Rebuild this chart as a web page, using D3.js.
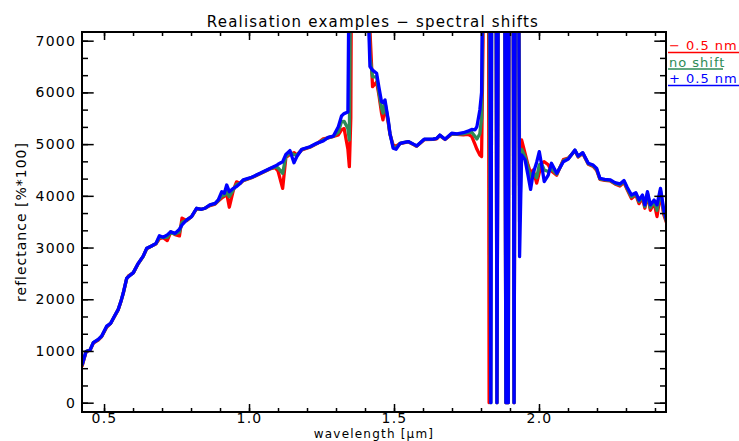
<!DOCTYPE html>
<html>
<head>
<meta charset="utf-8">
<script src="https://cdn.jsdelivr.net/npm/d3@7"></script>
<style>
  body { margin: 0; background: #fff; }
  svg { display: block; }
  text { font-family: "DejaVu Sans", sans-serif; fill: #000; }
</style>
</head>
<body>
<svg width="739" height="441"></svg>
<script>
// wavelength in micrometre
const wavelength = [
  0.424, 0.438, 0.452, 0.463, 0.480, 0.492, 0.509, 0.523, 0.538, 0.549,
  0.558, 0.566, 0.578, 0.584, 0.601, 0.618, 0.635, 0.647, 0.664, 0.679,
  0.691, 0.704, 0.718, 0.730, 0.745, 0.760, 0.769, 0.785, 0.802, 0.819,
  0.836, 0.848, 0.865, 0.883, 0.894, 0.906, 0.915, 0.923, 0.932, 0.946,
  0.957, 0.969, 0.980, 1.009, 1.038, 1.072, 1.090, 1.100, 1.116, 1.127,
  1.141, 1.155, 1.165, 1.182, 1.210, 1.233, 1.256, 1.273, 1.291, 1.308,
  1.319, 1.328, 1.341, 1.346, 1.351, 1.356, 1.372, 1.389, 1.403, 1.410,
  1.417, 1.426, 1.440, 1.448, 1.457, 1.462, 1.469, 1.480, 1.486, 1.497,
  1.507, 1.521, 1.532, 1.549, 1.572, 1.578, 1.604, 1.635, 1.647, 1.658,
  1.676, 1.699, 1.717, 1.739, 1.755, 1.768, 1.779, 1.786, 1.796, 1.802,
  1.807, 1.821, 1.828, 1.834, 1.845, 1.855, 1.871, 1.886, 1.890, 1.894,
  1.903, 1.914, 1.924, 1.933, 1.940, 1.952, 1.962, 1.971, 1.980, 1.992,
  2.001, 2.009, 2.018, 2.032, 2.043, 2.061, 2.084, 2.101, 2.124, 2.135,
  2.151, 2.170, 2.187, 2.199, 2.210, 2.227, 2.245, 2.262, 2.279, 2.293,
  2.304, 2.319, 2.334, 2.345, 2.357, 2.365, 2.374, 2.384, 2.397, 2.407,
  2.419, 2.430, 2.441
];

// - 0.5 nm (red)
const minusShift = [
  700, 985, 1020, 1150, 1210, 1280, 1460, 1535, 1685, 1800,
  1950, 2110, 2395, 2450, 2510, 2690, 2830, 2975, 3030, 3070,
  3170, 3190, 3135, 3300, 3250, 3225, 3570, 3520, 3600, 3750,
  3740, 3760, 3810, 3840, 3900, 3960, 3990, 4050, 3780, 4110,
  4270, 4240, 4295, 4350, 4425, 4520, 4545, 4480, 4145, 4740,
  4800, 4835, 4790, 4890, 4940, 5005, 5100, 5120, 5150, 5180,
  5275, 5300, 4900, 4565, 5500, 12000, 20000, 18000, 16000, 10000,
  7200, 6110, 6200, 5950, 5600, 5470, 5750, 5420, 5190, 4985,
  4960, 5010, 5025, 5045, 4975, 4960, 5085, 5090, 5100, 5165,
  5090, 5190, 5190, 5180, 5190, 5150, 5000, 4900, 4790, 4760,
  7000, 30000, 0, 4000, 30000, 0, 30000, 0, 8000, 0,
  30000, 0, 20000, 4200, 5080, 4820, 4600, 4435, 4500, 4245,
  4450, 4630, 4660, 4600, 4480, 4400, 4700, 4730, 4870, 4750,
  4820, 4610, 4570, 4490, 4320, 4300, 4290, 4230, 4190, 4260,
  4120, 3950, 4020, 3850, 3960, 3760, 4030, 3720, 3870, 3600,
  4050, 3640, 3460
];

// no shift (green)
const noShift = [
  720, 990, 1020, 1160, 1220, 1285, 1470, 1535, 1690, 1800,
  1955, 2110, 2400, 2440, 2515, 2690, 2830, 2980, 3030, 3075,
  3200, 3190, 3200, 3300, 3260, 3300, 3490, 3530, 3600, 3755,
  3740, 3760, 3820, 3850, 3910, 4000, 4010, 4080, 3985, 4120,
  4220, 4240, 4300, 4355, 4430, 4525, 4560, 4540, 4435, 4760,
  4830, 4800, 4780, 4895, 4945, 5010, 5080, 5125, 5150, 5230,
  5435, 5440, 5300, 5080, 9000, 16000, 20000, 18000, 15000, 8500,
  6700, 6300, 6300, 6000, 5700, 5600, 5800, 5450, 5200, 4950,
  4930, 5015, 5030, 5050, 4980, 4965, 5090, 5095, 5110, 5170,
  5095, 5200, 5195, 5200, 5220, 5230, 5150, 5100, 5200, 5500,
  8000, 30000, 8000, 0, 30000, 0, 30000, 0, 8000, 0,
  30000, 0, 20000, 3500, 4900, 4750, 4550, 4350, 4450, 4350,
  4600, 4620, 4500, 4470, 4520, 4420, 4680, 4720, 4880, 4760,
  4830, 4620, 4580, 4510, 4330, 4310, 4300, 4240, 4210, 4280,
  4140, 3980, 4040, 3890, 3990, 3790, 4050, 3770, 3900, 3720,
  4100, 3690, 3480
];

// + 0.5 nm (blue)
const plusShift = [
  730, 990, 1020, 1160, 1225, 1290, 1480, 1535, 1695, 1805,
  1955, 2115, 2405, 2435, 2515, 2695, 2835, 2985, 3030, 3080,
  3230, 3200, 3245, 3305, 3275, 3355, 3440, 3535, 3600, 3760,
  3740, 3760, 3825, 3855, 3920, 4080, 4050, 4210, 4080, 4145,
  4180, 4240, 4310, 4360, 4435, 4530, 4575, 4610, 4660, 4800,
  4875, 4640, 4760, 4900, 4950, 5015, 5060, 5130, 5155, 5335,
  5545, 5590, 5620, 9000, 16000, 20000, 20000, 18000, 15000, 7800,
  6500, 6430, 6370, 6100, 5820, 5800, 5855, 5470, 5210, 4920,
  4900, 5015, 5030, 5050, 4985, 4965, 5095, 5095, 5110, 5175,
  5095, 5210, 5200, 5220, 5250, 5285, 5275, 5340, 5660, 6000,
  9000, 30000, 16000, 0, 30000, 0, 30000, 0, 8000, 0,
  30000, 0, 20000, 2825, 4790, 4695, 4400, 4125, 4435, 4650,
  4855, 4600, 4275, 4400, 4630, 4435, 4660, 4710, 4885, 4770,
  4835, 4630, 4595, 4530, 4340, 4320, 4310, 4255, 4230, 4295,
  4165, 4015, 4060, 3920, 4015, 3825, 4080, 3825, 3920, 3825,
  4145, 3740, 3500
];

const xTicks = [0.5, 1.0, 1.5, 2.0];
const yTicks = [0, 1000, 2000, 3000, 4000, 5000, 6000, 7000];
const seriesNames = ['\u2212 0.5 nm', 'no shift', '+ 0.5 nm'];
const seriesColors = ['#ff0000', '#2e8b57', '#0000ff'];

const M = { left: 82, right: 666, top: 32, bottom: 412 };

const svg = d3.select('svg');

const x = d3.scaleLinear().domain([0.424, 2.438]).range([M.left, M.right]);
const y = d3.scaleLinear().domain([-180, 7168]).range([M.bottom, M.top]);

const xMinor = d3.range(0.5, 2.45, 0.1).map(v => +v.toFixed(1));
const yMinor = d3.range(0, 7001, 1000 / 3).map(v => Math.round(v));

svg.append('clipPath').attr('id', 'clip')
  .append('rect')
  .attr('x', M.left).attr('y', M.top)
  .attr('width', M.right - M.left).attr('height', M.bottom - M.top);

// lines
const series = [minusShift, noShift, plusShift];
const line = d3.line()
  .x((d, i) => x(wavelength[i]))
  .y(d => y(d));

svg.append('g').attr('clip-path', 'url(#clip)')
  .selectAll('path')
  .data(series)
  .enter()
  .append('path')
  .attr('d', line)
  .attr('fill', 'none')
  .attr('stroke', (d, i) => seriesColors[i])
  .attr('stroke-width', 3.3)
  .attr('stroke-linejoin', 'round');

// axes, ticks pointing inward
function styleAxis(g) {
  g.select('.domain').remove();
  g.selectAll('line').attr('stroke', '#000').attr('stroke-width', 1.5);
  g.selectAll('text')
    .style('font-family', '"DejaVu Sans", sans-serif')
    .style('font-size', '14px')
    .style('letter-spacing', '1.2px')
    .attr('fill', '#000');
}

svg.append('g')
  .attr('transform', `translate(0,${M.bottom})`)
  .call(d3.axisBottom(x).tickValues(xTicks).tickFormat(d3.format('.1f')).tickSize(-8).tickPadding(1.5))
  .call(styleAxis);
svg.append('g')
  .attr('transform', `translate(0,${M.bottom})`)
  .call(d3.axisBottom(x).tickValues(xMinor).tickFormat('').tickSize(-4))
  .call(styleAxis);
svg.append('g')
  .attr('transform', `translate(0,${M.top})`)
  .call(d3.axisTop(x).tickValues(xTicks).tickFormat('').tickSize(-8))
  .call(styleAxis);
svg.append('g')
  .attr('transform', `translate(0,${M.top})`)
  .call(d3.axisTop(x).tickValues(xMinor).tickFormat('').tickSize(-4))
  .call(styleAxis);

svg.append('g')
  .attr('transform', `translate(${M.left},0)`)
  .call(d3.axisLeft(y).tickValues(yTicks).tickFormat(d3.format('d')).tickSize(-11.7).tickPadding(6))
  .call(styleAxis);
svg.append('g')
  .attr('transform', `translate(${M.left},0)`)
  .call(d3.axisLeft(y).tickValues(yMinor).tickFormat('').tickSize(-6))
  .call(styleAxis);
svg.append('g')
  .attr('transform', `translate(${M.right},0)`)
  .call(d3.axisRight(y).tickValues(yTicks).tickFormat('').tickSize(-11.7))
  .call(styleAxis);
svg.append('g')
  .attr('transform', `translate(${M.right},0)`)
  .call(d3.axisRight(y).tickValues(yMinor).tickFormat('').tickSize(-6))
  .call(styleAxis);

// frame
svg.append('rect')
  .attr('x', M.left).attr('y', M.top)
  .attr('width', M.right - M.left).attr('height', M.bottom - M.top)
  .attr('fill', 'none').attr('stroke', '#000').attr('stroke-width', 2);

// title and labels
svg.append('text')
  .attr('x', (M.left + M.right) / 2 - 1).attr('y', 27)
  .attr('text-anchor', 'middle')
  .style('font-size', '15px').style('letter-spacing', '1.2px')
  .text('Realisation examples \u2212 spectral shifts');

svg.append('text')
  .attr('x', (M.left + M.right) / 2).attr('y', 438)
  .attr('text-anchor', 'middle')
  .style('font-size', '12px').style('letter-spacing', '1.2px')
  .text('wavelength [\u03bcm]');

svg.append('text')
  .attr('transform', `translate(26,${(M.top + M.bottom) / 2}) rotate(-90)`)
  .attr('text-anchor', 'middle')
  .style('font-size', '14px').style('letter-spacing', '1px')
  .text('reflectance [%*100]');

// legend
const legend = svg.append('g');
seriesNames.forEach((name, i) => {
  const ly = 50 + i * 16.5;
  legend.append('text')
    .attr('x', 669).attr('y', ly)
    .style('font-size', '13px').style('letter-spacing', '1px')
    .style('fill', seriesColors[i])
    .text(name);
  legend.append('line')
    .attr('x1', 668).attr('x2', i === 1 ? 723 : 739)
    .attr('y1', ly + 2.5).attr('y2', ly + 2.5)
    .attr('stroke', seriesColors[i]).attr('stroke-width', 1.5);
});
</script>
</body>
</html>
